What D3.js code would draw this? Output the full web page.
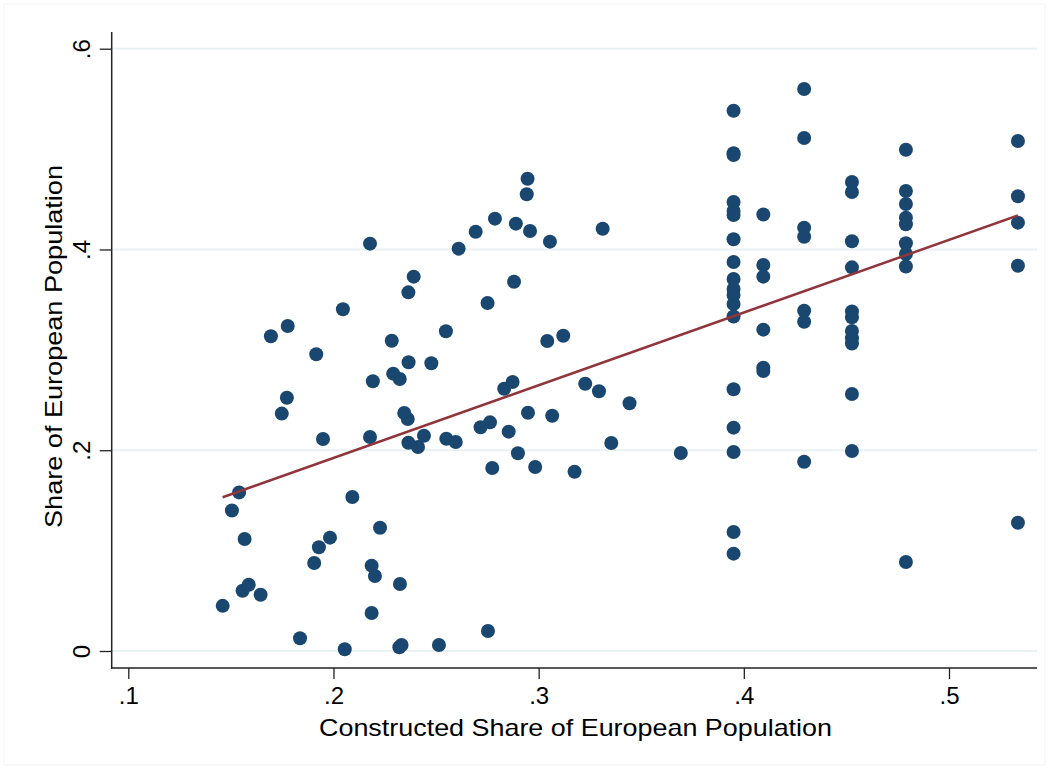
<!DOCTYPE html>
<html>
<head>
<meta charset="utf-8">
<script src="https://cdn.jsdelivr.net/npm/d3@7"></script>
<style>
  body { margin: 0; background: #fff; }
  svg { display: block; font-family: "Liberation Sans", Arial, sans-serif; }
</style>
</head>
<body>
<div id="d3"></div>
<script>
var constructedShare = [
  .146, .1505, .154, .1567, .1557, .1587, .1645, .1695, .1748, .1773,
  .1777, .1837, .1906, .1916, .1929, .1949, .1983, .2046, .2055, .2092,
  .2178, .2178, .2186, .2186, .2192, .2202, .2227, .2284, .2291, .2323,
  .2324, .2321, .2332, .2345, .2362, .2365, .2366, .2365, .2391, .2412,
  .2441, .2477, .2514, .2548, .255, .2596, .261, .2693, .2717, .2753,
  .2751, .2763, .2774, .2787, .2832, .2854, .2873, .288, .2889, .2899,
  .2946, .2942, .2948, .2958, .2983, .3042, .3055, .3066, .312, .3175,
  .3227, .3294, .3312, .3354, .3443, .3693,
  .395, .395, .395, .395, .395, .395, .395, .395, .395, .395,
  .395, .395, .395, .395, .395, .395, .395, .395,
  .4095, .4095, .4095, .4095, .4095, .4095,
  .4294, .4294, .4294, .4294, .4294, .4294, .4294,
  .4527, .4527, .4527, .4527, .4527, .4527, .4527, .4527, .4527, .4527, .4527,
  .479, .479, .479, .479, .479, .479, .479, .479, .479,
  .5336, .5336, .5336, .5336, .5336
];
var europeanShare = [
  .045, .140, .158, .1116, .060, .066, .056, .3135, .2365, .2523,
  .3238, .0127, .0877, .2956, .1033, .2112, .1129, .3404, .0017, .1534,
  .4058, .2132, .0379, .085, .2687, .0747, .1228, .3091, .2763, .271,
  .0668, .0037, .006, .2371, .2311, .3573, .2876, .2075, .3729, .2032,
  .2145, .2866, .006, .3185, .2115, .2082, .4008, .4177, .2229, .0199,
  .3467, .2278, .1823, .4307, .2613, .2185, .268, .3679, .4257, .197,
  .4705, .455, .2374, .4184, .1833, .3088, .4078, .2344, .3141, .1786,
  .2663, .2587, .4207, .2072, .2468, .1973,
  .5382, .4958, .4941, .4473, .4383, .4343, .4102, .3875, .3706, .3606,
  .3546, .3457, .3332, .2607, .2225, .1983, .1186, .0970,
  .4349, .3845, .3729, .3201, .2822, .2789,
  .5599, .5111, .4217, .4127, .339, .328, .1886,
  .4672, .4573, .4082, .3822, .3382, .3324, .3188, .3115, .3063, .256, .1992,
  .4994, .4583, .4453, .4317, .4251, .4062, .3955, .383, .0887,
  .5081, .453, .4267, .3838, .1278
];
var xTicks = [.1, .2, .3, .4, .5];
var yTicks = [0, .2, .4, .6];

var width = 1049, height = 769;
var plot = { left: 111.7, right: 1037, top: 32, bottom: 668 };

var x = d3.scaleLinear().domain([.1, .5]).range([128.3, 949]);
var y = d3.scaleLinear().domain([0, .6]).range([651, 48.7]);

var stataFmt = function(d) {
  return d === 0 ? "0" : d3.format(".1f")(d).replace(/^0/, "");
};

var svg = d3.select("#d3").append("svg").attr("width", width).attr("height", height);

svg.append("rect").attr("x", 4).attr("y", 4).attr("width", width - 8).attr("height", height - 8)
  .attr("fill", "none").attr("stroke", "#f1f5f6").attr("stroke-width", 1);

// gridlines
svg.append("g").selectAll("line").data(yTicks).enter().append("line")
  .attr("x1", plot.left).attr("x2", plot.right)
  .attr("y1", function(d) { return y(d); }).attr("y2", function(d) { return y(d); })
  .attr("stroke", "#eaf1f3").attr("stroke-width", 2);

// linear fit, like lfit
var data = constructedShare.map(function(v, i) { return { x: v, y: europeanShare[i] }; });
var mx = d3.mean(data, function(d) { return d.x; });
var my = d3.mean(data, function(d) { return d.y; });
var sxy = d3.sum(data, function(d) { return (d.x - mx) * (d.y - my); });
var sxx = d3.sum(data, function(d) { return (d.x - mx) * (d.x - mx); });
var slope = sxy / sxx, icpt = my - slope * mx;
var xr = d3.extent(data, function(d) { return d.x; });
var fit = xr.map(function(v) { return { x: v, y: icpt + slope * v }; });

// points
svg.append("g").selectAll("circle").data(data).enter().append("circle")
  .attr("cx", function(d) { return x(d.x); })
  .attr("cy", function(d) { return y(d.y); })
  .attr("r", 7)
  .attr("fill", "#1a476f");

var line = d3.line().x(function(d) { return x(d.x); }).y(function(d) { return y(d.y); });
svg.append("path").attr("d", line(fit)).attr("fill", "none")
  .attr("stroke", "#90353b").attr("stroke-width", 2.5);

// axes
var yAxis = d3.axisLeft(y).tickValues(yTicks).tickFormat(stataFmt).tickSize(12).tickPadding(10);
var xAxis = d3.axisBottom(x).tickValues(xTicks).tickFormat(stataFmt).tickSize(11).tickPadding(8);

var gy = svg.append("g").attr("transform", "translate(" + plot.left + ",0)").call(yAxis);
var gx = svg.append("g").attr("transform", "translate(0," + plot.bottom + ")").call(xAxis);

gy.select(".domain").remove();
gx.select(".domain").remove();
svg.append("line").attr("x1", plot.left).attr("x2", plot.left).attr("y1", plot.top).attr("y2", plot.bottom + 0.75)
  .attr("stroke", "#222").attr("stroke-width", 1.5);
svg.append("line").attr("x1", plot.left - 0.75).attr("x2", plot.right).attr("y1", plot.bottom).attr("y2", plot.bottom)
  .attr("stroke", "#222").attr("stroke-width", 1.5);

gy.selectAll(".tick line").attr("stroke", "#222").attr("stroke-width", 1.3);
gx.selectAll(".tick line").attr("stroke", "#222").attr("stroke-width", 1.3);

gy.selectAll(".tick text")
  .attr("font-size", 24).attr("fill", "#000")
  .attr("x", null).attr("dy", null)
  .attr("text-anchor", "middle")
  .attr("transform", "translate(-22,0) rotate(-90)");
gx.selectAll(".tick text")
  .attr("font-size", 24).attr("fill", "#000").attr("dy", "0.71em");

// axis titles
svg.append("text").attr("x", 575.5).attr("y", 736)
  .attr("text-anchor", "middle").attr("font-size", 24).attr("fill", "#000")
  .attr("textLength", 513).attr("lengthAdjust", "spacingAndGlyphs")
  .text("Constructed Share of European Population");

svg.append("text").attr("transform", "translate(62,346.5) rotate(-90)")
  .attr("text-anchor", "middle").attr("font-size", 24).attr("fill", "#000")
  .attr("textLength", 363).attr("lengthAdjust", "spacingAndGlyphs")
  .text("Share of European Population");
</script>
</body>
</html>
